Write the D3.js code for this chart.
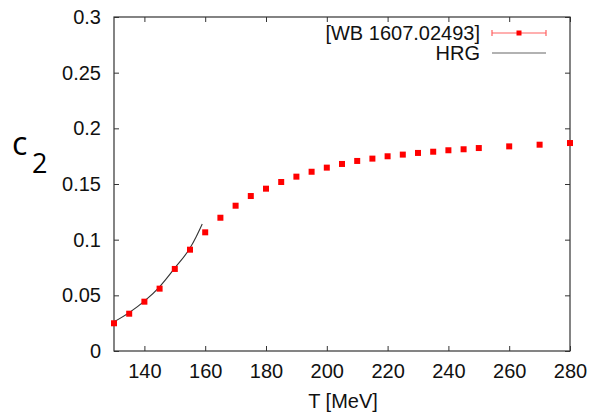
<!DOCTYPE html>
<html>
<head>
<meta charset="utf-8">
<script src="https://cdn.jsdelivr.net/npm/d3@7"></script>
<style>
  html, body { margin: 0; padding: 0; background: #fff; }
  svg { display: block; }
</style>
</head>
<body>
<script>
// ---- data ----
const temps = [130, 135, 140, 145, 150, 155, 160, 165, 170, 175, 180, 185, 190, 195, 200, 205, 210, 215, 220, 225, 230, 235, 240, 245, 250, 260, 270, 280];
const c2WB  = [0.0249, 0.0335, 0.0443, 0.0560, 0.0737, 0.0910, 0.1066, 0.1197, 0.1305, 0.1392, 0.1458, 0.1518, 0.1566, 0.1610, 0.1647, 0.1680, 0.1707, 0.1728, 0.1749, 0.1764, 0.1779, 0.1790, 0.1803, 0.1812, 0.1823, 0.1838, 0.1853, 0.1868];
const hrgT  = [130, 135, 140, 145, 150, 155, 157, 159];
const hrgC2 = [0.0262, 0.0345, 0.0448, 0.0577, 0.0745, 0.0925, 0.1025, 0.1140];
const xTicks = [140, 160, 180, 200, 220, 240, 260, 280];
const yTicks = [0, 0.05, 0.1, 0.15, 0.2, 0.25, 0.3];
const yTickLabels = ["0", "0.05", "0.1", "0.15", "0.2", "0.25", "0.3"];
const legendLabels = ["[WB 1607.02493]", "HRG"];

// ---- layout ----
const W = 592, H = 413;
const L = 114, R = 570, T = 17, B = 351;
const tickLen = 5;
const fs = 20;
const sans = "'Liberation Sans', Arial, Helvetica, sans-serif";

const svg = d3.select("body").append("svg").attr("width", W).attr("height", H);

const x = d3.scaleLinear().domain([130, 280]).range([L, R]);
const y = d3.scaleLinear().domain([0, 0.3]).range([B, T]);

const axisColor = "#333";

const gx = svg.append("g").attr("transform", `translate(0,${B})`)
  .call(d3.axisBottom(x).tickValues(xTicks).tickSize(-tickLen).tickPadding(13).tickFormat(d3.format("d")));
const gxt = svg.append("g").attr("transform", `translate(0,${T})`)
  .call(d3.axisTop(x).tickValues(xTicks).tickSize(-tickLen).tickFormat(""));
const gy = svg.append("g").attr("transform", `translate(${L},0)`)
  .call(d3.axisLeft(y).tickValues(yTicks).tickSize(-tickLen).tickPadding(13).tickFormat((d, i) => yTickLabels[i]));
const gyr = svg.append("g").attr("transform", `translate(${R},0)`)
  .call(d3.axisRight(y).tickValues(yTicks).tickSize(-tickLen).tickFormat(""));

[gx, gxt, gy, gyr].forEach(g => {
  g.select(".domain").remove();
  g.attr("font-family", null).attr("font-size", null);
  g.selectAll(".tick line").attr("stroke", axisColor).attr("stroke-width", 1);
  g.selectAll(".tick text").style("font-size", fs + "px").style("font-family", sans).attr("fill", "#111");
});
gx.selectAll(".tick text").attr("dy", "0.71em");

// frame
svg.append("rect").attr("x", L).attr("y", T).attr("width", R - L).attr("height", B - T)
  .attr("fill", "none").attr("stroke", axisColor).attr("stroke-width", 1.2);

// axis titles
svg.append("text").attr("x", (L + R) / 2 + 1).attr("y", 408).attr("text-anchor", "middle")
  .style("font-size", fs + "px").style("font-family", sans).attr("fill", "#111").text("T [MeV]");

const ylab = svg.append("text").attr("x", 12).attr("y", 155)
  .style("font-family", "'Open Sans', sans-serif").attr("fill", "#000");
ylab.append("tspan").style("font-size", "32px").text("c");
ylab.append("tspan").attr("x", 32).attr("y", 173).style("font-size", "27px").text("2");

// HRG curve
const line = d3.line().x((d, i) => x(hrgT[i])).y(d => y(d)).curve(d3.curveMonotoneX);
svg.append("path").datum(hrgC2).attr("d", line)
  .attr("fill", "none").attr("stroke", "#333").attr("stroke-width", 1.1);

// WB points
const ms = 6;
svg.append("g").selectAll("rect").data(c2WB).join("rect")
  .attr("x", (d, i) => x(temps[i]) - ms / 2)
  .attr("y", d => y(d) - ms / 2)
  .attr("width", ms).attr("height", ms)
  .attr("fill", "#ff0000");

// legend
const lx1 = 492, lx2 = 546, ly1 = 33, ly2 = 53, ltx = 480;
svg.append("text").attr("x", ltx).attr("y", ly1).attr("dy", "0.35em").attr("text-anchor", "end")
  .style("font-size", fs + "px").style("font-family", sans).attr("fill", "#111").text(legendLabels[0]);
svg.append("text").attr("x", ltx).attr("y", ly2).attr("dy", "0.35em").attr("text-anchor", "end")
  .style("font-size", fs + "px").style("font-family", sans).attr("fill", "#111").text(legendLabels[1]);
svg.append("line").attr("x1", lx1).attr("x2", lx2).attr("y1", ly1).attr("y2", ly1)
  .attr("stroke", "#ff6060").attr("stroke-width", 1.2);
[lx1, lx2].forEach(xx => svg.append("line").attr("x1", xx).attr("x2", xx)
  .attr("y1", ly1 - 3).attr("y2", ly1 + 3).attr("stroke", "#ff6060").attr("stroke-width", 1.2));
svg.append("rect").attr("x", (lx1 + lx2) / 2 - 2.5).attr("y", ly1 - 2.5).attr("width", 5).attr("height", 5).attr("fill", "#ff0000");
svg.append("line").attr("x1", lx1).attr("x2", lx2).attr("y1", ly2).attr("y2", ly2)
  .attr("stroke", "#666").attr("stroke-width", 1.2);
</script>
</body>
</html>
